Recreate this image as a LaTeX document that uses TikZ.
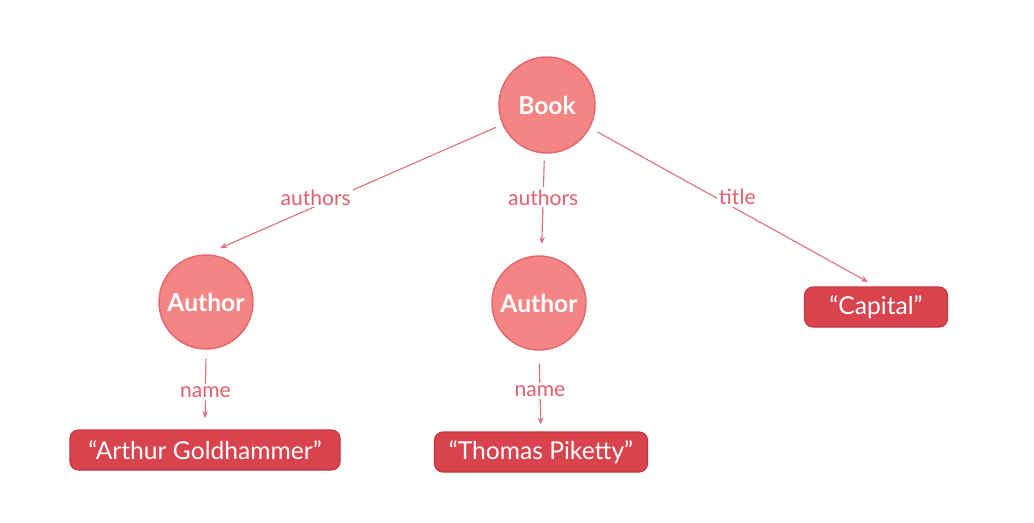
\documentclass[tikz,border=0pt]{standalone}
\usepackage{fontspec}
\setmainfont{Lato}
\usetikzlibrary{arrows.meta}

\definecolor{entfill}{HTML}{F58585}
\definecolor{entline}{HTML}{E4676D}
\definecolor{valfill}{HTML}{D8434D}
\definecolor{valline}{HTML}{C63641}
\definecolor{relcol}{HTML}{DF7082}
\definecolor{lblcol}{HTML}{E0606E}

\begin{document}
\begin{tikzpicture}[x=0.025cm, y=-0.025cm,
            ent/.style={circle, draw=entline, fill=entfill, line width=1pt,
                minimum size=2.35cm, inner sep=0pt, text=white,
                font=\fontsize{17.5}{20}\selectfont\bfseries},
            val/.style={draw=valline, fill=valfill, line width=0.8pt,
                rounded corners=6pt, minimum height=1cm, text=white,
                font=\fontsize{17.5}{20}\selectfont},
            rel/.style={draw=relcol, line width=0.8pt,
                -{Stealth[length=5pt, width=4pt]}},
            lbl/.style={fill=white, text=lblcol, inner sep=1.5pt,
                font=\fontsize{15}{18}\selectfont}
        ]
            \useasboundingbox (0,0) rectangle (1034,522);

            \node[ent, minimum size=2.4cm] (book) at (547,105) {Book};
            \node[ent] (auth1) at (206,302) {Author};
            \node[ent] (auth2) at (539,303) {Author};

            \node[val, minimum width=3.575cm] (capital) at (876,307) {“Capital”};
            \node[val, minimum width=6.75cm] (arthur) at (205,450) {“Arthur Goldhammer”};
            \node[val, minimum width=5.325cm] (thomas) at (541,452) {“Thomas Piketty”};

            \draw[rel, shorten <=5pt, shorten >=11pt] (book) --
                node[lbl, pos=0.63, yshift=0.22cm] {authors} (auth1.north);
            \draw[rel, shorten <=5pt, shorten >=8pt] (book.-93) --
                node[lbl, pos=0.43] {authors} (auth2.87);
            \draw[rel, shorten <=6pt, shorten >=6.5pt] (book.-28) --
                node[lbl, pos=0.515, yshift=0.31cm] {title} (capital.north);

            \draw[rel, shorten <=6pt, shorten >=8pt] (auth1.south) --
                node[lbl, pos=0.53] {name} (arthur.north);
            \draw[rel, shorten <=9pt, shorten >=5pt] (auth2.south) --
                node[lbl] {name} (thomas.north);
        \end{tikzpicture}
\end{document}
